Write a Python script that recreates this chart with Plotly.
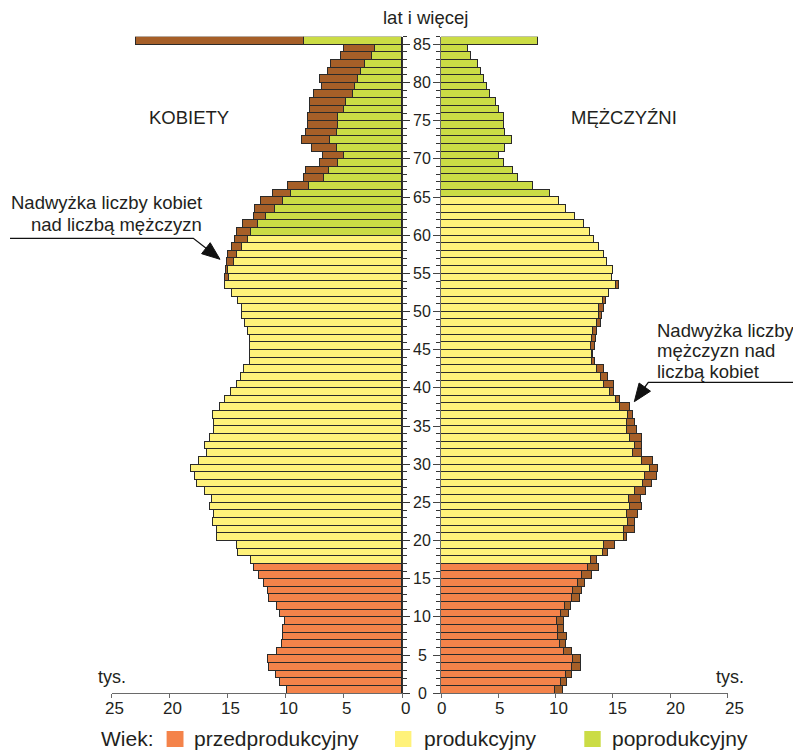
import plotly.graph_objects as go

# ---------------- data (thousands) ----------------
ages = list(range(0, 86))  # 85 = "85 lat i więcej"

women = [9.94, 10.51, 10.89, 11.47, 11.55, 10.77, 10.34, 10.25, 10.25, 10.14,
         10.51, 10.80, 11.47, 11.55, 11.93, 12.33, 12.80, 13.06, 14.12, 14.21,
         15.94, 15.94, 16.32, 16.23, 16.52, 16.40, 16.96, 17.65, 17.82, 18.20,
         17.53, 16.78, 16.96, 16.52, 16.23, 16.23, 16.29, 15.66, 15.25, 14.79,
         14.21, 13.93, 13.63, 13.14, 13.14, 13.08, 13.14, 13.29, 13.58, 13.78,
         13.78, 14.15, 14.70, 15.25, 15.25, 15.15, 15.10, 15.02, 14.64, 14.45,
         14.21, 13.72, 12.80, 12.71, 12.13, 11.15, 9.82, 8.43, 8.26, 7.10,
         6.82, 7.77, 8.61, 8.26, 8.15, 8.15, 7.94, 7.94, 7.57, 6.90,
         7.08, 6.44, 6.15, 5.31, 5.00, 22.90]

men = [10.68, 11.03, 11.41, 12.20, 12.20, 11.41, 10.92, 11.03, 10.77, 10.77,
       11.15, 11.32, 12.11, 12.29, 12.58, 13.16, 13.77, 13.62, 14.59, 15.14,
       16.21, 16.91, 16.97, 17.23, 17.53, 17.44, 17.85, 18.37, 18.86, 18.95,
       18.47, 17.50, 17.58, 17.50, 17.06, 16.97, 16.74, 16.51, 15.63, 15.11,
       15.11, 14.56, 14.18, 13.45, 13.30, 13.45, 13.54, 13.65, 13.92, 14.09,
       14.18, 14.38, 14.67, 15.49, 14.96, 15.05, 14.47, 14.26, 13.83, 13.33,
       13.04, 12.46, 11.73, 10.95, 10.31, 9.55, 8.00, 6.75, 6.29, 5.53,
       5.04, 5.62, 6.20, 5.62, 5.53, 5.53, 5.04, 4.83, 4.25, 4.05,
       3.78, 3.52, 3.23, 2.65, 2.39, 8.44]

# age-group boundaries as drawn in the chart
pre_end = 17          # ages below -> przedprodukcyjny
post_start_women = 60
post_start_men = 65

x_ticks = [0, 5, 10, 15, 20, 25]
age_labels = list(range(0, 86, 5))
legend_labels = ["przedprodukcyjny", "produkcyjny", "poprodukcyjny"]

C_PRE = "#F4834A"
C_PROD = "#FFF27A"
C_POST = "#CBDC45"
C_EXC = "#A65F28"
C_LINE = "#2A2A2A"
TXT = "#231F20"
FONT = "Liberation Sans, Arial, sans-serif"

W, H = 793, 754


def px(x):
    return x / W


def py(y):
    return 1 - y / H


def group_color(age, post_start):
    if age < pre_end:
        return C_PRE
    if age < post_start:
        return C_PROD
    return C_POST


yc = [a + 0.5 for a in ages]
base = [min(w, m) for w, m in zip(women, men)]
exc_w = [(w - m) if w > m else None for w, m in zip(women, men)]
exc_m = [(m - w) if m > w else None for w, m in zip(women, men)]
col_w = [group_color(a, post_start_women) for a in ages]
col_m = [group_color(a, post_start_men) for a in ages]

fig = go.Figure()
line = dict(color=C_LINE, width=1)
fig.add_trace(go.Bar(y=yc, x=base, orientation="h", width=1, xaxis="x", yaxis="y",
                     marker=dict(color=col_w, line=line), showlegend=False, name="Kobiety"))
fig.add_trace(go.Bar(y=yc, x=exc_w, orientation="h", width=1, xaxis="x", yaxis="y",
                     marker=dict(color=C_EXC, line=line), showlegend=False,
                     name="Nadwyżka kobiet"))
fig.add_trace(go.Bar(y=yc, x=base, orientation="h", width=1, xaxis="x2", yaxis="y2",
                     marker=dict(color=col_m, line=line), showlegend=False, name="Mężczyźni"))
fig.add_trace(go.Bar(y=yc, x=exc_m, orientation="h", width=1, xaxis="x2", yaxis="y2",
                     marker=dict(color=C_EXC, line=line), showlegend=False,
                     name="Nadwyżka mężczyzn"))

ydom = [py(693.3), py(36.7)]
xaxis_common = dict(showgrid=False, zeroline=False, showline=True, linecolor="#6a6a6a",
                    linewidth=1.3, ticks="outside", ticklen=4, tickcolor="#6a6a6a",
                    tickwidth=1.2, tickvals=x_ticks, showticklabels=False,
                    automargin=False, fixedrange=True)
yaxis_common = dict(range=[0, 86], showgrid=False, zeroline=False, showline=True,
                    linewidth=1.2, showticklabels=False, tickvals=age_labels,
                    ticks="outside", ticklen=7, tickwidth=1,
                    minor=dict(dtick=1, ticks="outside", ticklen=3.5, tickwidth=1,
                               tickcolor="#333333"),
                    domain=ydom, automargin=False, fixedrange=True)

fig.update_layout(
    width=W, height=H, autosize=False,
    margin=dict(l=0, r=0, t=0, b=0, pad=0, autoexpand=False),
    paper_bgcolor="white", plot_bgcolor="white",
    barmode="stack", bargap=0,
    font=dict(family=FONT, color=TXT),
    xaxis=dict(domain=[px(111.7), px(402)], range=[25, 0], anchor="y", **xaxis_common),
    xaxis2=dict(domain=[px(441), px(727.5)], range=[0, 25], anchor="y2", **xaxis_common),
    yaxis=dict(anchor="x", side="right", linecolor="#333333", tickcolor="#333333",
               **yaxis_common),
    yaxis2=dict(anchor="x2", side="left", linecolor="#6a6a6a", tickcolor="#444444",
                **yaxis_common),
)

ann = []
# age labels in the middle
for v in age_labels:
    ann.append(dict(x=px(422), xref="paper", y=v, yref="y", text=str(v), showarrow=False,
                    xanchor="center", yanchor="middle",
                    font=dict(family=FONT, size=16, color=TXT)))

# value tick labels (placed slightly right of their ticks, as in the original)
for v in x_ticks:
    ann.append(dict(x=v, xref="x", y=py(708.3), yref="paper", text=str(v),
                    showarrow=False, xanchor="center", yanchor="middle", xshift=3,
                    font=dict(family=FONT, size=17, color=TXT)))
    ann.append(dict(x=v, xref="x2", y=py(708.3), yref="paper", text=str(v),
                    showarrow=False, xanchor="center", yanchor="middle",
                    xshift=0.28 * v,
                    font=dict(family=FONT, size=17, color=TXT)))


def text(x, y, s, size, anchor="center"):
    ann.append(dict(x=px(x), y=py(y), xref="paper", yref="paper", text=s, showarrow=False,
                    xanchor=anchor, yanchor="middle",
                    font=dict(family=FONT, size=size, color=TXT)))


text(425.3, 17, "lat i więcej", 18.5)
text(189.2, 117.3, "KOBIETY", 18.5)
text(624.2, 117.3, "MĘŻCZYŹNI", 18.5)
text(204, 202.7, "Nadwyżka liczby kobiet", 18.5, "right")
text(204, 224, "nad liczbą mężczyzn", 18.5, "right")
text(655, 330, "Nadwyżka liczby", 18.5, "left")
text(655, 351, "mężczyzn nad", 18.5, "left")
text(655, 371.5, "liczbą kobiet", 18.5, "left")
text(112, 677, "tys.", 18)
text(730, 677, "tys.", 18)
text(99, 738.5, "Wiek:", 21, "left")
text(192.4, 738.5, legend_labels[0], 21, "left")
text(421.7, 738.5, legend_labels[1], 21, "left")
text(610, 738.5, legend_labels[2], 21, "left")

shapes = []
for (x0, x1, c) in [(166.6, 183.5, C_PRE), (395, 411.4, C_PROD), (584.3, 600.7, C_POST)]:
    shapes.append(dict(type="rect", xref="paper", yref="paper", x0=px(x0), x1=px(x1),
                       y0=py(747), y1=py(731), fillcolor=c, line=dict(width=0)))


def path(points, closed=False):
    d = "M " + " L ".join(f"{px(x):.5f},{py(y):.5f}" for x, y in points)
    return d + (" Z" if closed else "")


# arrow to women's surplus
shapes.append(dict(type="path", xref="paper", yref="paper",
                   path=path([(10, 238.3), (193.3, 238.3), (209, 250.6)]),
                   line=dict(color="#111111", width=1.3)))
shapes.append(dict(type="path", xref="paper", yref="paper",
                   path=path([(220, 259.3), (201.6, 253.7), (210.2, 242.7)], True),
                   fillcolor="#111111", line=dict(color="#111111", width=1)))
# arrow to men's surplus
shapes.append(dict(type="path", xref="paper", yref="paper",
                   path=path([(793, 382.3), (648.3, 382.3), (642, 391)]),
                   line=dict(color="#111111", width=1.3)))
shapes.append(dict(type="path", xref="paper", yref="paper",
                   path=path([(634.3, 401.7), (639.1, 383.0), (650.5, 391.2)], True),
                   fillcolor="#111111", line=dict(color="#111111", width=1)))

fig.update_layout(annotations=ann, shapes=shapes)
fig.write_html(
    "out.html",
    config={"displayModeBar": False, "responsive": False},
    post_script="document.body.style.margin='0';document.body.style.padding='0';"
                "document.body.style.overflow='hidden';",
)
